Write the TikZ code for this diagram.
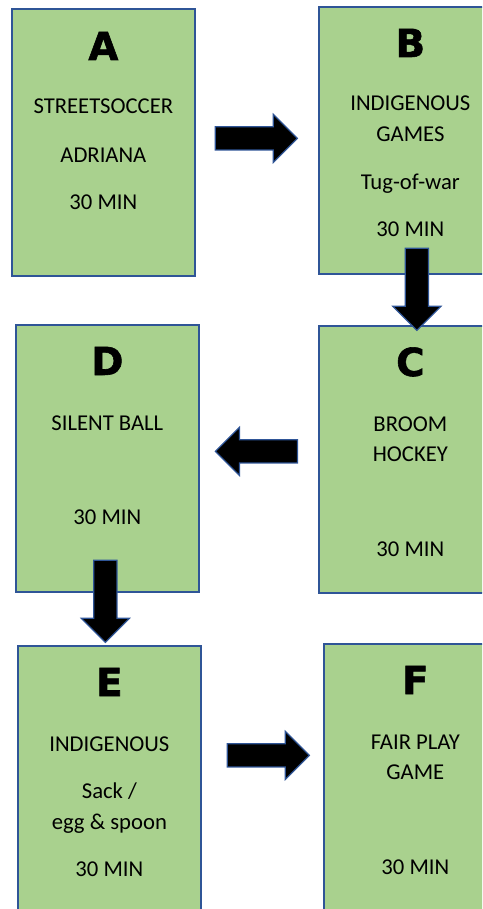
\documentclass[tikz,border=0pt]{standalone}
\usepackage{fontspec}
\setmainfont{Carlito}
\newfontfamily\letterfont[FakeBold=1.5]{DejaVu Sans Bold}
\usepackage{xcolor}
\usepackage{tikz}
\usetikzlibrary{positioning,calc,shapes.arrows}

\definecolor{stationgreen}{HTML}{A9D18E}
\definecolor{stationblue}{HTML}{2F5597}

\tikzset{
  station/.style={draw=stationblue, line width=1.3pt, fill=stationgreen,
    minimum width=137.25pt, minimum height=200.25pt, inner sep=0pt, anchor=north west},
  letter/.style={anchor=base, inner sep=0pt, font=\letterfont\fontsize{29}{29}\selectfont},
  txt/.style={anchor=base, inner sep=0pt, font=\fontsize{17}{23}\selectfont},
  blockarrow/.style={single arrow, draw=stationblue, fill=black, line width=0.9pt,
    inner xsep=0pt, inner ysep=8.25pt, single arrow head extend=9.4pt, minimum height=61.5pt,
    anchor=tail}
}

\begin{document}
\begin{tikzpicture}[x=0.75pt, y=-0.75pt]
  \useasboundingbox (0,0) rectangle (482,909);
  \begin{scope}
    \clip (0,0) rectangle (482,909);

    % stations
    \node[station] (boxA) at (11,8) {};
    \node[station] (boxB) at (318,6) {};
    \node[station] (boxC) at (318,325) {};
    \node[station] (boxD) at (15,324) {};
    \node[station] (boxE) at (17,645) {};
    \node[station] (boxF) at (323,643) {};

    % station A
    \node[letter] (letA) at ($(boxA.north)+(0,52)$) {A};
    \node[txt] (a1) at ($(boxA.north)+(0,106)$) {STREETSOCCER};
    \node[txt] (a2) at ($(boxA.north)+(0,154.5)$) {ADRIANA};
    \node[txt] (a3) at ($(boxA.north)+(0,201.5)$) {30 MIN};

    % station B
    \node[letter] (letB) at ($(boxB.north)+(0,51)$) {B};
    \node[txt] (b1) at ($(boxB.north)+(0,105)$) {INDIGENOUS};
    \node[txt] (b2) at ($(boxB.north)+(0,136)$) {GAMES};
    \node[txt] (b3) at ($(boxB.north)+(0,183.5)$) {Tug-of-war};
    \node[txt] (b4) at ($(boxB.north)+(0,231)$) {30 MIN};

    % station C
    \node[letter] (letC) at ($(boxC.north)+(0,51)$) {C};
    \node[txt] (c1) at ($(boxC.north)+(0,106.5)$) {BROOM};
    \node[txt] (c2) at ($(boxC.north)+(0,136.5)$) {HOCKEY};
    \node[txt] (c3) at ($(boxC.north)+(0,231)$) {30 MIN};

    % station D
    \node[letter] (letD) at ($(boxD.north)+(0,51)$) {D};
    \node[txt] (d1) at ($(boxD.north)+(0,106)$) {SILENT BALL};
    \node[txt] (d2) at ($(boxD.north)+(0,200)$) {30 MIN};

    % station E
    \node[letter] (letE) at ($(boxE.north)+(0,51)$) {E};
    \node[txt] (e1) at ($(boxE.north)+(0,106)$) {INDIGENOUS};
    \node[txt] (e2) at ($(boxE.north)+(0,153.5)$) {Sack /};
    \node[txt] (e3) at ($(boxE.north)+(0,184)$) {egg \& spoon};
    \node[txt] (e4) at ($(boxE.north)+(0,231)$) {30 MIN};

    % station F
    \node[letter] (letF) at ($(boxF.north)+(0,51)$) {F};
    \node[txt] (f1) at ($(boxF.north)+(0,106)$) {FAIR PLAY};
    \node[txt] (f2) at ($(boxF.north)+(0,136)$) {GAME};
    \node[txt] (f3) at ($(boxF.north)+(0,231)$) {30 MIN};

    % arrows between stations (placed by their tails)
    \node[blockarrow] (arrAB) at ($(boxA.east)+(19,-4)$) {};
    \node[blockarrow, rotate=-90] (arrBC) at ($(boxB.south)+(6.5,-27)$) {};
    \node[blockarrow, rotate=180] (arrCD) at ($(boxC.west)+(-20,-8)$) {};
    \node[blockarrow, rotate=-90] (arrDE) at ($(boxD.south)+(-2,-33)$) {};
    \node[blockarrow] (arrEF) at ($(boxE.east)+(25,-24)$) {};
  \end{scope}
\end{tikzpicture}
\end{document}
